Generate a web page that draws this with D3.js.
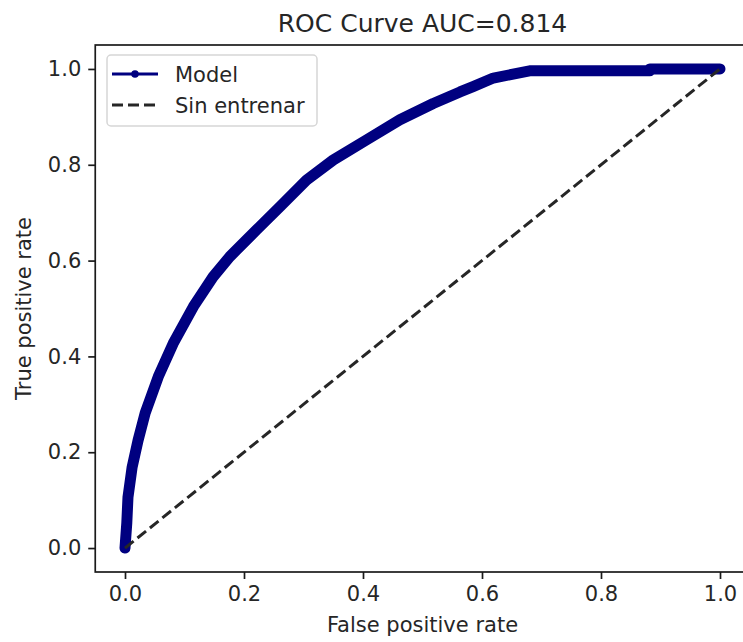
<!DOCTYPE html>
<html>
<head>
<meta charset="utf-8">
<script src="https://cdn.jsdelivr.net/npm/d3@7/dist/d3.min.js"></script>
<style>
  html, body { margin: 0; padding: 0; background: #fff; }
  svg { display: block; }
  text { font-family: "DejaVu Sans", sans-serif; fill: #262626; }
</style>
</head>
<body>
<div id="chart"></div>
<script>
// ROC curve of the model (false positive rate vs true positive rate)
const fpr = [0, 0.003, 0.005, 0.012, 0.022, 0.034, 0.056, 0.081, 0.115, 0.148, 0.176, 0.221,
             0.261, 0.305, 0.35, 0.406, 0.462, 0.518, 0.563, 0.585, 0.619, 0.68, 0.882, 0.882, 1.0];
const tpr = [0, 0.052, 0.106, 0.169, 0.225, 0.282, 0.358, 0.427, 0.504, 0.566, 0.608, 0.664,
             0.713, 0.768, 0.81, 0.852, 0.894, 0.928, 0.952, 0.963, 0.981, 0.996, 0.996, 1.0, 1.0];
// Untrained baseline (chance diagonal)
const baseFpr = [0, 1];
const baseTpr = [0, 1];
const ticks = [0.0, 0.2, 0.4, 0.6, 0.8, 1.0];
const auc = 0.814;
const seriesNames = ["Model", "Sin entrenar"];

const W = 743, H = 642;
const frame = { left: 95.25, right: 749.75, top: 45, bottom: 572 };

const svg = d3.select("#chart").append("svg")
  .attr("width", W).attr("height", H);
svg.append("rect").attr("width", W).attr("height", H).attr("fill", "#fff");

const x = d3.scaleLinear().domain([-0.05, 1.05]).range([frame.left, frame.right]);
const y = d3.scaleLinear().domain([-0.05, 1.05]).range([frame.bottom, frame.top]);

const navy = "#000080";
const dashCol = "#262626";

// clip to the axes area
svg.append("clipPath").attr("id", "plotclip").append("rect")
  .attr("x", frame.left).attr("y", frame.top)
  .attr("width", frame.right - frame.left).attr("height", frame.bottom - frame.top);

const plot = svg.append("g").attr("clip-path", "url(#plotclip)");

const line = d3.line().x(d => x(d[0])).y(d => y(d[1]));

const modelPts = fpr.map((v, i) => [v, tpr[i]]);
plot.append("path")
  .datum(modelPts)
  .attr("d", line)
  .attr("fill", "none")
  .attr("stroke", navy)
  .attr("stroke-width", 11)
  .attr("stroke-linejoin", "round")
  .attr("stroke-linecap", "round");

plot.append("path")
  .datum(baseFpr.map((v, i) => [v, baseTpr[i]]))
  .attr("d", line)
  .attr("fill", "none")
  .attr("stroke", dashCol)
  .attr("stroke-width", 3)
  .attr("stroke-dasharray", "11,5");

// axes
const xAxis = d3.axisBottom(x).tickValues(ticks).tickFormat(d3.format(".1f"))
  .tickSize(7).tickPadding(7);
const yAxis = d3.axisLeft(y).tickValues(ticks).tickFormat(d3.format(".1f"))
  .tickSize(7).tickPadding(7);

const gx = svg.append("g").attr("transform", `translate(0,${frame.bottom})`).call(xAxis);
const gy = svg.append("g").attr("transform", `translate(${frame.left},0)`).call(yAxis);
[gx, gy].forEach(g => {
  g.select(".domain").remove();
  g.selectAll(".tick line").attr("stroke", "#1a1a1a").attr("stroke-width", 1.7);
  g.selectAll(".tick text").attr("font-size", 21).attr("font-family", "DejaVu Sans").attr("fill", "#262626");
});

// frame
svg.append("rect")
  .attr("x", frame.left).attr("y", frame.top)
  .attr("width", frame.right - frame.left).attr("height", frame.bottom - frame.top)
  .attr("fill", "none").attr("stroke", "#1a1a1a").attr("stroke-width", 1.7);

// title and labels
svg.append("text")
  .attr("x", (frame.left + frame.right) / 2).attr("y", 32)
  .attr("text-anchor", "middle").attr("font-size", 25)
  .text(`ROC Curve AUC=${auc.toFixed(3)}`);

svg.append("text")
  .attr("x", (frame.left + frame.right) / 2).attr("y", 632)
  .attr("text-anchor", "middle").attr("font-size", 21)
  .text("False positive rate");

svg.append("text")
  .attr("transform", `translate(31,${(frame.top + frame.bottom) / 2}) rotate(-90)`)
  .attr("text-anchor", "middle").attr("font-size", 21)
  .text("True positive rate");

// legend
const lg = svg.append("g");
lg.append("rect")
  .attr("x", 107).attr("y", 55).attr("width", 210).attr("height", 71)
  .attr("rx", 4).attr("fill", "rgba(255,255,255,0.8)")
  .attr("stroke", "#d6d6d6").attr("stroke-width", 1.5);

lg.append("line").attr("x1", 112).attr("x2", 158).attr("y1", 74).attr("y2", 74)
  .attr("stroke", navy).attr("stroke-width", 3);
lg.append("circle").attr("cx", 135).attr("cy", 74).attr("r", 3.8).attr("fill", navy);
lg.append("line").attr("x1", 112).attr("x2", 158).attr("y1", 105).attr("y2", 105)
  .attr("stroke", dashCol).attr("stroke-width", 3).attr("stroke-dasharray", "11,5");

lg.selectAll("text.leg").data(seriesNames).enter().append("text")
  .attr("class", "leg")
  .attr("x", 175).attr("y", (d, i) => 74 + i * 31)
  .attr("dy", "0.36em").attr("font-size", 21)
  .text(d => d);
</script>
</body>
</html>
